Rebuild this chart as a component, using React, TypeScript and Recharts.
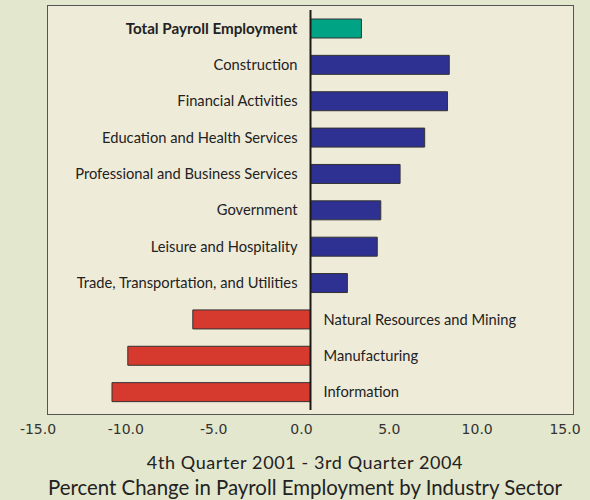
import React from "react"
import { Bar, BarChart, Cell, LabelList, ReferenceLine, XAxis, YAxis } from "recharts"

const sectors = [
  "Total Payroll Employment",
  "Construction",
  "Financial Activities",
  "Education and Health Services",
  "Professional and Business Services",
  "Government",
  "Leisure and Hospitality",
  "Trade, Transportation, and Utilities",
  "Natural Resources and Mining",
  "Manufacturing",
  "Information",
]

const pctChange = [2.9, 7.9, 7.8, 6.5, 5.1, 4.0, 3.8, 2.1, -6.7, -10.4, -11.3]

const xTicks = [-15, -10, -5, 0, 5, 10, 15]

const data = sectors.map((name, i) => ({ name, value: pctChange[i] }))

const labelFont = "Lato, 'Open Sans', sans-serif"

function barColor(i: number, v: number) {
  if (i === 0) return "#00a383"
  return v >= 0 ? "#2e3192" : "#d63a2e"
}

function SectorLabel(props: any) {
  const { x, y, width, height, index } = props
  const left = Math.min(x, x + width)
  const right = Math.max(x, x + width)
  const v = pctChange[index]
  const zero = v >= 0 ? left : right
  return (
    <text
      x={v >= 0 ? zero - 13 : zero + 13}
      y={y + height / 2}
      dy="0.35em"
      textAnchor={v >= 0 ? "end" : "start"}
      fontFamily={labelFont}
      fontSize={index === 0 ? 15.2 : 14.7}
      fontWeight={index === 0 ? 700 : 400}
      fill="#222"
    >
      {sectors[index]}
    </text>
  )
}

function XTick(props: any) {
  const { x, y, payload } = props
  return (
    <text x={x - 9} y={y} dy="0.71em" textAnchor="middle" fontFamily="'DejaVu Sans', sans-serif" fontSize={14} fill="#333">
      {payload.value.toFixed(1)}
    </text>
  )
}

export default function App() {
  return (
    <div style={{ position: "absolute", left: 0, top: 0, width: 590, height: 500, background: "#e3e7cd", overflow: "hidden" }}>
      <div
        style={{
          position: "absolute",
          left: 47,
          top: 5,
          width: 527,
          height: 410,
          boxSizing: "border-box",
          border: "1.5px solid #555",
          background: "#efebd9",
        }}
      />
      <div style={{ position: "absolute", left: 0, top: 0 }}>
        <BarChart
          width={590}
          height={450}
          data={data}
          layout="vertical"
          margin={{ top: 10, right: 16, bottom: 10, left: 47 }}
          barSize={19}
        >
          <XAxis
            type="number"
            domain={[-15, 15]}
            ticks={xTicks}
            axisLine={false}
            tickLine={false}
            tickMargin={8}
            height={30}
            tick={<XTick />}
          />
          <YAxis type="category" dataKey="name" hide />
          <Bar dataKey="value" stroke="#333" strokeWidth={1} isAnimationActive={false}>
            {data.map((d, i) => (
              <Cell key={d.name} fill={barColor(i, d.value)} />
            ))}
            <LabelList dataKey="value" content={<SectorLabel />} />
          </Bar>
          <ReferenceLine x={0} stroke="#1a1a1a" strokeWidth={2} ifOverflow="extendDomain" />
        </BarChart>
      </div>
      <div
        style={{
          position: "absolute",
          left: 20,
          width: 570,
          top: 451,
          textAlign: "center",
          fontFamily: labelFont,
          color: "#222",
        }}
      >
        <div style={{ fontSize: 18, letterSpacing: 0.6, lineHeight: "23px" }}>4th Quarter 2001 - 3rd Quarter 2004</div>
        <div style={{ fontSize: 20.4, lineHeight: "26px" }}>Percent Change in Payroll Employment by Industry Sector</div>
      </div>
    </div>
  )
}
